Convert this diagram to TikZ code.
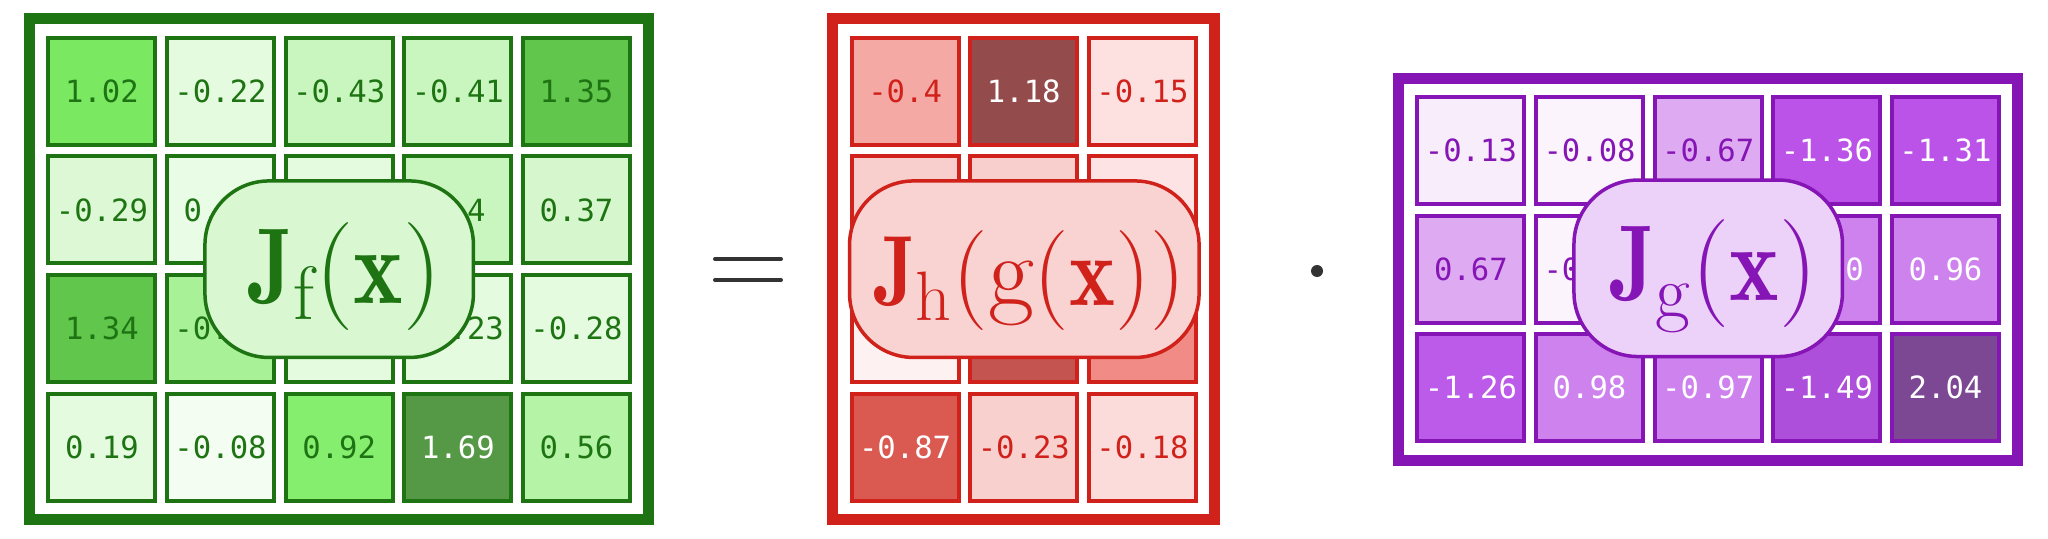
\RequirePackage{fix-cm}
\documentclass[tikz,border=0pt]{standalone}
\usepackage{fontspec}
\usepackage{graphicx}
\newfontfamily\cellfont{DejaVu Sans Mono}
\usetikzlibrary{fit}
\newcommand\bJ{\scalebox{0.8}[1]{$\mathbf{J}$}}
\newcommand\bx{\scalebox{0.87}[1]{$\mathbf{x}$}}
\definecolor{gfr}{HTML}{1E7413}
\definecolor{rfr}{HTML}{D0211B}
\definecolor{pfr}{HTML}{8515B4}
\definecolor{gbox}{HTML}{D9F8D2}
\definecolor{rbox}{HTML}{F8D3D1}
\definecolor{pbox}{HTML}{ECD1F8}
\definecolor{opc}{HTML}{333333}
\tikzset{
  cell/.style={draw, line width=2pt, minimum width=53.5pt, minimum height=53.5pt, inner sep=0pt,
    font=\cellfont\fontsize{15.3}{18}\selectfont, /utils/exec={\definecolor{cellfill}{HTML}{#1}}, fill=cellfill},
  gc/.style={cell=#1, draw=gfr, text=gfr},
  rc/.style={cell=#1, draw=rfr, text=rfr},
  pc/.style={cell=#1, draw=pfr, text=pfr},
  wt/.style={text=white},
  frame/.style={draw=#1, line width=5.5pt, inner sep=8.45pt},
  mbox/.style={draw=#1, line width=1.75pt, rounded corners=32pt, minimum height=88.25pt, inner sep=0pt},
  mtext/.style={text=#1, inner sep=0pt},
  opline/.style={draw=opc, line width=2pt, line cap=round}
}
\begin{document}
\begin{tikzpicture}[x=0.5pt, y=-0.5pt]
\useasboundingbox (0,0) rectangle (2048,539);
% ---------- green grid ----------
\node[gc=7BE862] (g11) at (101.9,91.3) {1.02};
\node[gc=E4FBDF] (g12) at (220.55,91.3) {-0.22};
\node[gc=C8F6BE] (g13) at (339.2,91.3) {-0.43};
\node[gc=C8F6BE] (g14) at (457.85,91.3) {-0.41};
\node[gc=61C64C] (g15) at (576.5,91.3) {1.35};
\node[gc=DCF8D5] (g21) at (101.9,210) {-0.29};
\node[gc=E9FCE5] (g22) at (220.55,210) {0.12};
\node[gc=E4FBDF] (g23) at (339.2,210) {};
\node[gc=C8F6BE] (g24) at (457.85,210) {0.4};
\node[gc=D6F7CE] (g25) at (576.5,210) {0.37};
\node[gc=61C64C] (g31) at (101.9,328.7) {1.34};
\node[gc=A8F196] (g32) at (220.55,328.7) {-0.66};
\node[gc=E4FBDF] (g33) at (339.2,328.7) {};
\node[gc=E4FBDF] (g34) at (457.85,328.7) {-0.23};
\node[gc=E4FBDF] (g35) at (576.5,328.7) {-0.28};
\node[gc=E4FBDF] (g41) at (101.9,447.4) {0.19};
\node[gc=F3FDF1] (g42) at (220.55,447.4) {-0.08};
\node[gc=86EE6E] (g43) at (339.2,447.4) {0.92};
\node[gc=559946, wt] (g44) at (457.85,447.4) {1.69};
\node[gc=B5F4A6] (g45) at (576.5,447.4) {0.56};
\node[frame=gfr, fit=(g11)(g45)] (gframe) {};
\node[mbox=gfr, fill=gbox, minimum width=134.25pt] (jf) at (339.2,269.2) {};
\node[mtext=gfr] (jft) at ([xshift=3pt,yshift=-3.5pt]jf.center) {\fontsize{54}{60}\selectfont$\bJ_{\mathrm{f}}(\bx)$};
% ---------- equals ----------
\coordinate (e1a) at (715,259); \coordinate (e1b) at (781,259);
\coordinate (e2a) at (715,280); \coordinate (e2b) at (781,280);
\draw[opline] (e1a) -- (e1b);
\draw[opline] (e2a) -- (e2b);
% ---------- red grid ----------
\node[rc=F5A9A4] (r11) at (905.1,91.3) {-0.4};
\node[rc=944B4B, wt] (r12) at (1023.8,91.3) {1.18};
\node[rc=FDE0E0] (r13) at (1142.5,91.3) {-0.15};
\node[rc=F8CFCD] (r21) at (905.1,210) {};
\node[rc=F8CFCD] (r22) at (1023.8,210) {};
\node[rc=FDE3E3] (r23) at (1142.5,210) {};
\node[rc=FDF1F1] (r31) at (905.1,328.7) {};
\node[rc=C45450] (r32) at (1023.8,328.7) {};
\node[rc=F08B85] (r33) at (1142.5,328.7) {};
\node[rc=DA5A52, wt] (r41) at (905.1,447.4) {-0.87};
\node[rc=F8D0CE] (r42) at (1023.8,447.4) {-0.23};
\node[rc=FCDCDB] (r43) at (1142.5,447.4) {-0.18};
\node[frame=rfr, fit=(r11)(r43)] (rframe) {};
\node[mbox=rfr, fill=rbox, minimum width=174.75pt] (jh) at (1024.3,269.2) {};
\node[mtext=rfr] (jht) at ([xshift=3pt,yshift=-5.5pt]jh.center) {\fontsize{50}{56}\selectfont$\bJ_{\mathrm{h}}(\mathrm{g}(\bx))$};
% ---------- dot ----------
\coordinate (dotc) at (1317,271);
\fill[opc] (dotc) circle[radius=3pt];
% ---------- purple grid ----------
\node[pc=F7EDFB] (p11) at (1470.9,150.5) {-0.13};
\node[pc=FBF4FD] (p12) at (1589.55,150.5) {-0.08};
\node[pc=DEAAF2] (p13) at (1708.2,150.5) {-0.67};
\node[pc=BC53E9, wt] (p14) at (1826.85,150.5) {-1.36};
\node[pc=BC53E9, wt] (p15) at (1945.5,150.5) {-1.31};
\node[pc=DEAAF2] (p21) at (1470.9,269.15) {0.67};
\node[pc=FBF4FD] (p22) at (1589.55,269.15) {-0.04};
\node[pc=DEAAF2] (p23) at (1708.2,269.15) {};
\node[pc=CD82EE, wt] (p24) at (1826.85,269.15) {-1.0};
\node[pc=CD82EE, wt] (p25) at (1945.5,269.15) {0.96};
\node[pc=BC5AE9, wt] (p31) at (1470.9,387.8) {-1.26};
\node[pc=CD82EE, wt] (p32) at (1589.55,387.8) {0.98};
\node[pc=CD82EE, wt] (p33) at (1708.2,387.8) {-0.97};
\node[pc=AD4FDA, wt] (p34) at (1826.85,387.8) {-1.49};
\node[pc=7C4893, wt] (p35) at (1945.5,387.8) {2.04};
\node[frame=pfr, fit=(p11)(p35)] (pframe) {};
\node[mbox=pfr, fill=pbox, minimum width=134.25pt] (jg) at (1708.2,268.3) {};
\node[mtext=pfr] (jgt) at ([xshift=3pt,yshift=-4pt]jg.center) {\fontsize{54}{60}\selectfont$\bJ_{\mathrm{g}}(\bx)$};
\end{tikzpicture}
\end{document}
